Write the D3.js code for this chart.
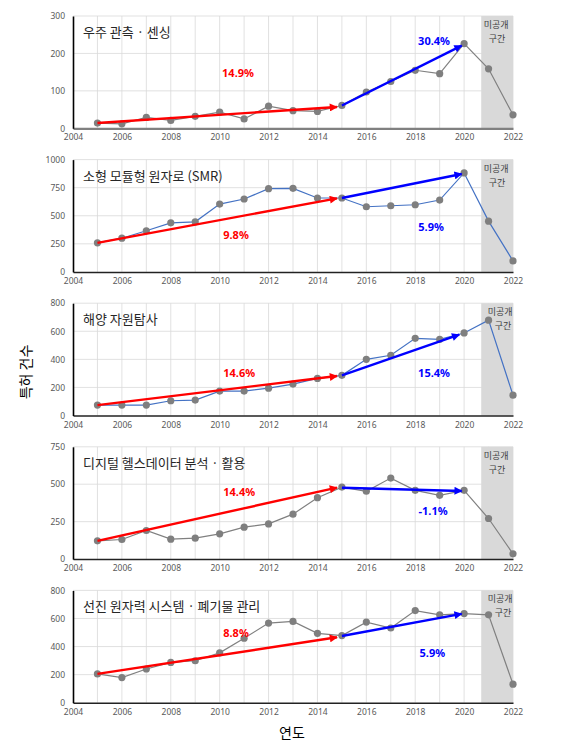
<!DOCTYPE html>
<html><head><meta charset="utf-8">
<script src="https://cdn.jsdelivr.net/npm/d3@7"></script>
<style>body{margin:0;background:#fff;}svg{display:block;font-family:"Noto Sans CJK KR","Noto Sans",sans-serif;}</style>
</head><body>
<script>
const years = d3.range(2005, 2023);
const xTicks = [2004,2006,2008,2010,2012,2014,2016,2018,2020,2022];
const titles = ["우주 관측 · 센싱","소형 모듈형 원자로 (SMR)","해양 자원탐사","디지털 헬스데이터 분석 · 활용","선진 원자력 시스템 · 폐기물 관리"];
const series0 = [14,12,29,21,32,43,25,59,47,45,61,97,125,155,146,226,159,36];
const series1 = [259,300,366,437,446,604,649,741,744,658,658,580,589,598,640,881,452,98];
const series2 = [74,74,74,105,110,174,174,195,224,264,286,400,429,550,543,588,679,145];
const series3 = [122,131,191,133,140,169,213,235,300,410,481,453,541,459,426,459,271,35];
const series4 = [205,179,240,287,299,355,459,567,579,494,478,574,532,656,626,635,626,132];
const yMax = [300,1000,800,750,800];
const yStep = [100,250,200,250,200];
const lineColors = ["#808080","#4472C4","#4472C4","#808080","#808080"];
// trend arrows: [startYear, startVal, endYear, endVal]
const redArrows = [[2005,14,2014.8,57],[2005,259,2014.8,655],[2005,74,2014.8,281],[2005,122,2014.8,477],[2005,205,2014.8,466]];
const blueArrows = [[2015,61,2019.9,221],[2015,658,2019.9,872],[2015,286,2019.8,576],[2015,477,2019.9,455],[2015,475,2019.9,633]];
const redLabels = ["14.9%","9.8%","14.6%","14.4%","8.8%"];
const blueLabels = ["30.4%","5.9%","15.4%","-1.1%","5.9%"];
// label anchor positions in data units [year, value]
const redLabelPos = [[2010.75,137],[2010.67,293],[2010.8,274],[2010.8,421],[2010.67,468]];
const blueLabelPos = [[2018.77,222],[2018.65,364],[2018.77,274],[2018.73,295],[2018.7,326]];
const hiddenStart = 2020.7;
const allSeries = [series0,series1,series2,series3,series4];

const W = 569, H = 750;
const svg = d3.select("body").append("svg").attr("width", W).attr("height", H);
const defs = svg.append("defs");
[["red","#FF0000"],["blue","#0000FF"]].forEach(([id,c])=>{
  defs.append("marker").attr("id","arr-"+id).attr("viewBox","0 0 10 10")
    .attr("refX",9).attr("refY",5).attr("markerWidth",10).attr("markerHeight",8)
    .attr("markerUnits","userSpaceOnUse").attr("orient","auto")
    .append("path").attr("d","M0,0L10,5L0,10Z").attr("fill",c);
});

const x = d3.scaleLinear().domain([2004,2022]).range([73,513]);

allSeries.forEach((data,i)=>{
  const top = 16 + i*143.6, bottom = top + 112.3;
  const y = d3.scaleLinear().domain([0,yMax[i]]).range([bottom, top]);
  const g = svg.append("g");
  const yt = d3.range(0, yMax[i]+1, yStep[i]);
  // gridlines
  g.selectAll(".gx").data(d3.range(2005,2023)).join("line")
    .attr("x1",d=>x(d)).attr("x2",d=>x(d)).attr("y1",top).attr("y2",bottom)
    .attr("stroke","#d9d9d9").attr("stroke-width",0.8);
  g.selectAll(".gy").data(yt.filter(d=>d>0)).join("line")
    .attr("x1",x(2004)).attr("x2",x(2022)).attr("y1",d=>y(d)).attr("y2",d=>y(d))
    .attr("stroke","#d9d9d9").attr("stroke-width",0.8);
  // hidden region
  g.append("rect").attr("x",x(hiddenStart)).attr("y",top).attr("width",x(2022)-x(hiddenStart)).attr("height",bottom-top)
    .attr("fill","#d9d9d9");
  const cx = (x(hiddenStart)+x(2022))/2;
  const off = (i===2||i===4) ? [4,6] : [0,0];
  g.append("text").attr("x",cx+off[0]-1).attr("y",top+12).attr("text-anchor","middle")
    .attr("font-size",9).attr("fill","#404040").text("미공개");
  g.append("text").attr("x",cx+off[1]).attr("y",top+26).attr("text-anchor","middle")
    .attr("font-size",9).attr("fill","#404040").text("구간");
  // axes
  const ax = g.append("g").attr("transform",`translate(0,${bottom})`)
    .call(d3.axisBottom(x).tickValues(xTicks).tickFormat(d3.format("d")).tickSize(0).tickPadding(6));
  ax.select(".domain").attr("stroke", i===0?"#808080":"#222").attr("stroke-width", i===0?2.2:1.5);
  ax.selectAll("text").attr("font-size",8.5).attr("fill","#595959").attr("font-family","'Noto Sans','DejaVu Sans',sans-serif");
  const ay = g.append("g").attr("transform",`translate(${x(2004)},0)`)
    .call(d3.axisLeft(y).tickValues(yt).tickFormat(d3.format("d")).tickSize(0).tickPadding(8));
  ay.select(".domain").attr("stroke","#000").attr("stroke-width",1.6);
  ay.selectAll("text").attr("font-size",8.5).attr("fill","#595959").attr("font-family","'Noto Sans','DejaVu Sans',sans-serif");
  // line + markers
  const line = d3.line().x((d,j)=>x(years[j])).y(d=>y(d));
  g.append("path").datum(data).attr("d",line).attr("fill","none").attr("stroke",lineColors[i]).attr("stroke-width",1.2);
  g.selectAll(".pt").data(data).join("circle")
    .attr("cx",(d,j)=>x(years[j])).attr("cy",d=>y(d)).attr("r",3.6).attr("fill","#7f7f7f");
  // arrows
  const ra = redArrows[i], ba = blueArrows[i];
  g.append("line").attr("x1",x(ra[0])).attr("y1",y(ra[1])).attr("x2",x(ra[2])).attr("y2",y(ra[3]))
    .attr("stroke","#FF0000").attr("stroke-width",2.4).attr("marker-end","url(#arr-red)");
  g.append("line").attr("x1",x(ba[0])).attr("y1",y(ba[1])).attr("x2",x(ba[2])).attr("y2",y(ba[3]))
    .attr("stroke","#0000FF").attr("stroke-width",2.4).attr("marker-end","url(#arr-blue)");
  // labels
  g.append("text").attr("x",x(redLabelPos[i][0])).attr("y",y(redLabelPos[i][1])).attr("text-anchor","middle")
    .attr("font-size",11).attr("font-weight","bold").attr("fill","#FF0000")
    .attr("font-family","'Noto Sans','DejaVu Sans',sans-serif").text(redLabels[i]);
  g.append("text").attr("x",x(blueLabelPos[i][0])).attr("y",y(blueLabelPos[i][1])).attr("text-anchor","middle")
    .attr("font-size",11).attr("font-weight","bold").attr("fill","#0000FF")
    .attr("font-family","'Noto Sans','DejaVu Sans',sans-serif").text(blueLabels[i]);
  // title
  g.append("text").attr("x",83).attr("y",top+21).attr("font-size",13).attr("fill","#262626").text(titles[i]);
});

svg.append("text").attr("transform","translate(31,372) rotate(-90)").attr("text-anchor","middle")
  .attr("font-size",14).attr("fill","#000").text("특허 건수");
svg.append("text").attr("x",292).attr("y",738).attr("text-anchor","middle")
  .attr("font-size",14).attr("fill","#000").text("연도");
</script>
</body></html>
